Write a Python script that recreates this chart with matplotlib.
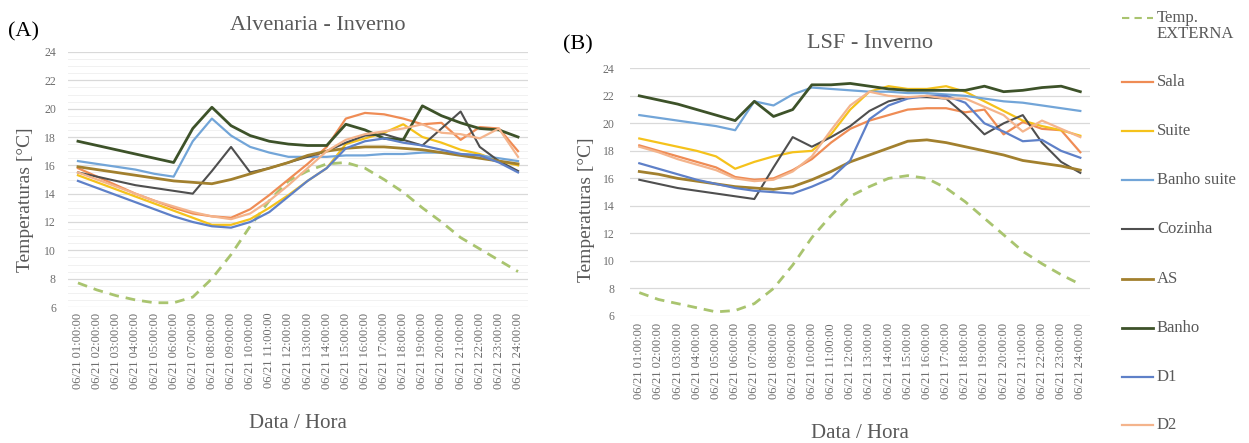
import numpy as np
import matplotlib
matplotlib.use('Agg')
import matplotlib.pyplot as plt
from matplotlib.lines import Line2D

plt.rcParams['font.family'] = ['Liberation Serif', 'DejaVu Serif']

# rótulos do eixo x (hora a hora do dia 06/21)
hours = ['06/21 %02d:00:00' % h for h in range(1, 25)]

# (A) Alvenaria - Inverno
temp_ext_a = [7.7, 7.2, 6.8, 6.5, 6.3, 6.3, 6.7, 8.0, 9.7, 11.7, 13.5, 14.9,
              15.6, 16.1, 16.2, 15.8, 15.0, 14.1, 13.0, 12.0, 10.9, 10.1, 9.3, 8.5]
sala_a = [15.8, 15.2, 14.6, 14.0, 13.5, 13.0, 12.6, 12.4, 12.3, 12.9, 13.9, 15.0,
          16.1, 17.3, 19.3, 19.7, 19.6, 19.3, 18.9, 19.0, 17.8, 18.7, 18.6, 17.0]
suite_a = [15.3, 14.8, 14.3, 13.8, 13.3, 12.8, 12.3, 11.8, 11.8, 12.2, 13.0, 13.9,
           14.9, 15.8, 17.5, 17.9, 18.3, 18.9, 18.0, 17.6, 17.1, 16.8, 16.3, 16.0]
banho_suite_a = [16.3, 16.1, 15.9, 15.7, 15.4, 15.2, 17.7, 19.3, 18.1, 17.3, 16.9, 16.6,
                 16.6, 16.6, 16.7, 16.7, 16.8, 16.8, 16.9, 16.9, 16.8, 16.7, 16.5, 16.3]
cozinha_a = [15.5, 15.2, 14.9, 14.6, 14.4, 14.2, 14.0, 15.6, 17.3, 15.5, 15.8, 16.2,
             16.6, 17.0, 17.6, 18.1, 18.2, 17.8, 17.4, 18.6, 19.8, 17.3, 16.3, 15.6]
as_a = [15.9, 15.7, 15.5, 15.3, 15.1, 14.9, 14.8, 14.7, 15.0, 15.4, 15.8, 16.2,
        16.7, 17.0, 17.2, 17.3, 17.3, 17.2, 17.1, 16.9, 16.7, 16.5, 16.3, 16.1]
banho_a = [17.7, 17.4, 17.1, 16.8, 16.5, 16.2, 18.6, 20.1, 18.8, 18.1, 17.7, 17.5,
           17.4, 17.4, 18.9, 18.5, 17.9, 17.8, 20.2, 19.5, 19.0, 18.6, 18.5, 18.0]
d1_a = [14.9, 14.4, 13.9, 13.4, 12.9, 12.4, 12.0, 11.7, 11.6, 12.0, 12.7, 13.8,
        14.9, 15.8, 17.2, 17.7, 17.9, 17.6, 17.4, 17.1, 16.8, 16.7, 16.2, 15.5]
d2_a = [15.5, 15.0, 14.5, 14.0, 13.5, 13.1, 12.7, 12.4, 12.2, 12.6, 13.5, 14.6,
        15.8, 17.0, 17.8, 18.2, 18.4, 18.6, 18.9, 18.3, 18.2, 17.9, 18.6, 16.6]

# (B) LSF - Inverno
temp_ext_b = [7.7, 7.2, 6.9, 6.6, 6.3, 6.4, 6.9, 8.0, 9.7, 11.7, 13.3, 14.7,
              15.4, 16.0, 16.2, 16.0, 15.3, 14.3, 13.1, 11.9, 10.7, 9.8, 9.0, 8.3]
sala_b = [18.4, 18.0, 17.6, 17.2, 16.8, 16.1, 15.9, 16.0, 16.6, 17.4, 18.6, 19.6,
          20.2, 20.6, 21.0, 21.1, 21.1, 20.8, 21.0, 19.2, 20.1, 19.6, 19.5, 17.9]
suite_b = [18.9, 18.6, 18.3, 18.0, 17.6, 16.7, 17.2, 17.6, 17.9, 18.0, 19.2, 21.0,
           22.3, 22.7, 22.5, 22.5, 22.7, 22.3, 21.6, 20.9, 20.2, 19.8, 19.5, 19.1]
banho_suite_b = [20.6, 20.4, 20.2, 20.0, 19.8, 19.5, 21.6, 21.3, 22.1, 22.6, 22.5, 22.4,
                 22.3, 22.3, 22.2, 22.2, 22.1, 22.0, 21.8, 21.6, 21.5, 21.3, 21.1, 20.9]
cozinha_b = [15.9, 15.6, 15.3, 15.1, 14.9, 14.7, 14.5, 16.8, 19.0, 18.3, 19.0, 19.8,
             20.9, 21.6, 21.9, 21.9, 21.8, 20.6, 19.2, 20.0, 20.6, 18.6, 17.2, 16.4]
as_b = [16.5, 16.3, 16.0, 15.8, 15.6, 15.4, 15.3, 15.2, 15.4, 15.9, 16.5, 17.2,
        17.7, 18.2, 18.7, 18.8, 18.6, 18.3, 18.0, 17.7, 17.3, 17.1, 16.9, 16.6]
banho_b = [22.0, 21.7, 21.4, 21.0, 20.6, 20.2, 21.6, 20.5, 21.0, 22.8, 22.8, 22.9,
           22.7, 22.5, 22.4, 22.4, 22.4, 22.4, 22.7, 22.3, 22.4, 22.6, 22.7, 22.3]
d1_b = [17.1, 16.7, 16.3, 15.9, 15.6, 15.3, 15.1, 15.0, 14.9, 15.4, 16.0, 17.3,
        20.3, 21.3, 21.8, 22.0, 22.0, 21.5, 20.0, 19.4, 18.7, 18.8, 18.0, 17.5]
d2_b = [18.3, 17.9, 17.4, 17.0, 16.6, 16.0, 15.8, 15.9, 16.5, 17.6, 19.5, 21.3,
        22.3, 22.0, 21.9, 22.0, 21.8, 21.8, 21.2, 20.6, 19.4, 20.2, 19.6, 19.0]

names = ['Temp.\nEXTERNA', 'Sala', 'Suite', 'Banho suite', 'Cozinha', 'AS', 'Banho', 'D1', 'D2']
colors = ['#a9c46f', '#ef8c55', '#f5c21b', '#72a5d8', '#4f4f4f', '#a2802e', '#3d5229', '#5e80c8', '#f4b48c']
widths = [2.0, 1.6, 1.6, 1.6, 1.5, 2.0, 2.0, 1.6, 1.6]

series_a = [temp_ext_a, sala_a, suite_a, banho_suite_a, cozinha_a, as_a, banho_a, d1_a, d2_a]
series_b = [temp_ext_b, sala_b, suite_b, banho_suite_b, cozinha_b, as_b, banho_b, d1_b, d2_b]

W, H = 1249, 443
fig = plt.figure(figsize=(W / 100, H / 100), dpi=100)
ax_a = fig.add_axes([68.4 / W, 1 - 307 / H, 459.2 / W, 255 / H])
ax_b = fig.add_axes([629.7 / W, 1 - 316 / H, 460.2 / W, 247.7 / H])

grey = '#595959'
light = '#6e6e6e'
x = np.arange(len(hours))

for ax, series in [(ax_a, series_a), (ax_b, series_b)]:
    for k, vals in enumerate(series):
        if k == 0:
            ax.plot(x, vals, color=colors[k], lw=widths[k], dashes=(3.5, 2.5))
        else:
            ax.plot(x, vals, color=colors[k], lw=widths[k])
    ax.set_xlim(-0.5, 23.5)
    ax.set_ylim(6, 24)
    ax.set_yticks(range(6, 25, 2))
    ax.set_xticks(x)
    ax.set_xticklabels(hours, rotation=90, fontsize=9, color=light)
    ax.tick_params(axis='y', labelsize=8.5, labelcolor=light)
    ax.tick_params(length=0)
    for s in ax.spines.values():
        s.set_visible(False)
    ax.grid(axis='y', color='#d9d9d9', lw=0.9)
    ax.set_axisbelow(True)

ax_a.set_yticks(np.arange(6, 24.01, 0.5), minor=True)
ax_a.tick_params(axis='y', which='minor', length=0)
ax_a.grid(axis='y', which='minor', color='#f1f1f1', lw=0.7)
ax_a.tick_params(axis='x', pad=4)
ax_a.tick_params(axis='y', pad=9)
ax_b.tick_params(axis='x', pad=5)
ax_b.tick_params(axis='y', pad=11)

# títulos, rótulos
ax_a.text(0.543, 1.105, 'Alvenaria - Inverno', transform=ax_a.transAxes,
          ha='center', va='center', fontsize=16, color=grey)
ax_b.text(0.522, 1.100, 'LSF - Inverno', transform=ax_b.transAxes,
          ha='center', va='center', fontsize=16, color=grey)
fig.text(8 / W, 1 - 32 / H, '(A)', ha='left', va='center', fontsize=16, color='black')
fig.text(563 / W, 1 - 45 / H, '(B)', ha='left', va='center', fontsize=16, color='black')

for ax, yc in [(ax_a, -0.42), (ax_b, -0.438)]:
    ax.set_xlabel('Data / Hora', fontsize=15, color=grey)
    ax.xaxis.set_label_coords(0.5, yc)
    ax.set_ylabel('Temperaturas [°C]', fontsize=14, color=grey)
ax_a.yaxis.set_label_coords(-0.075, 0.42)
ax_b.yaxis.set_label_coords(-0.075, 0.43)

# legenda
leg_y = [18, 82, 131, 180, 229, 279, 328, 377, 425]
for k, name in enumerate(names):
    yy = 1 - leg_y[k] / H
    if k == 0:
        ln = Line2D([1122 / W, 1153 / W], [yy, yy], transform=fig.transFigure,
                    color=colors[k], lw=1.5, dashes=(3.5, 2.5))
        fig.text(1157 / W, yy + 8 / H, name, ha='left', va='top', fontsize=12,
                 color=grey, linespacing=1.0)
    else:
        ln = Line2D([1122 / W, 1153 / W], [yy, yy], transform=fig.transFigure,
                    color=colors[k], lw=widths[k])
        fig.text(1157 / W, yy, name, ha='left', va='center', fontsize=12, color=grey)
    fig.add_artist(ln)

fig.savefig('out.png', dpi=100)
